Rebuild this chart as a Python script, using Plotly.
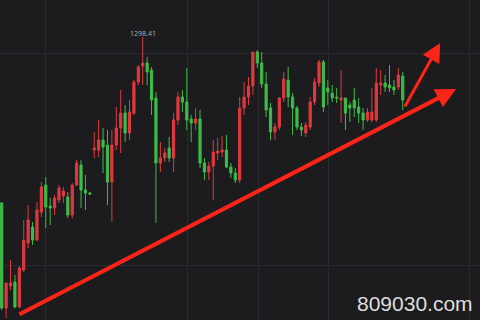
import plotly.graph_objects as go

# OHLC values (Chinese convention: red = up, green = down)
opens = [1215.5, 1163, 1174, 1176, 1163.5, 1182, 1195.5, 1203.5, 1197, 1211,
         1224.5, 1214, 1213, 1217, 1219, 1218.5, 1209.5, 1224.5, 1234.5, 1222,
         1220.5, 1242, 1242, 1247, 1244.5, 1226, 1244.5, 1253, 1260.5, 1250.5,
         1260.5, 1276, 1284, 1285.5, 1282, 1268, 1235.5, 1238, 1243, 1238,
         1257, 1268.5, 1266, 1257.5, 1255.5, 1257.5, 1235.5, 1231, 1234, 1240.5,
         1241, 1242, 1233.5, 1230.5, 1227, 1263, 1268.5, 1274, 1291, 1285.5,
         1275, 1263, 1251, 1253.5, 1268, 1277, 1268.5, 1263, 1253.5, 1250.5,
         1253.5, 1266, 1275.5, 1286, 1273, 1270.5, 1268.5, 1267, 1268, 1264.5,
         1267, 1263.5, 1260.5, 1257, 1257, 1257, 1274.5, 1275.5, 1274.5, 1273.5,
         1273.5, 1279]
highs = [1216, 1175.5, 1187, 1179.5, 1184, 1207, 1214.5, 1206, 1216, 1226,
         1228.5, 1218, 1219.5, 1224.5, 1223.5, 1221, 1225.5, 1237, 1237, 1229.5,
         1221, 1251, 1257, 1253, 1252, 1252, 1263.5, 1272, 1264.5, 1267,
         1277, 1284.5, 1298.41, 1288.5, 1283.5, 1271, 1246, 1243, 1248.5, 1260.5,
         1271, 1272, 1283, 1259.5, 1263, 1262, 1238, 1236, 1247, 1248,
         1249, 1249.5, 1235.5, 1233, 1268.5, 1276, 1278.5, 1291, 1292, 1291,
         1281, 1265.5, 1255.5, 1268.5, 1281, 1283.5, 1270.5, 1264, 1255.5, 1256,
         1268.5, 1278, 1287, 1287, 1277, 1274.5, 1273, 1282, 1268, 1266,
         1273, 1268, 1263, 1263, 1273, 1283, 1282, 1279.5, 1284.5, 1277,
         1283, 1281]
lows = [1162, 1158, 1172, 1163, 1163, 1181, 1193, 1194.5, 1196.5, 1208.5,
        1203, 1204.5, 1209.5, 1215.5, 1215.5, 1208, 1208, 1224, 1213, 1212,
        1219.5, 1238, 1238.5, 1230.5, 1214.5, 1206, 1242, 1240.5, 1246, 1247,
        1259.5, 1274.5, 1274.5, 1274.5, 1259.5, 1205.5, 1231, 1236, 1236, 1231,
        1254.5, 1261, 1252, 1246, 1252, 1233, 1227, 1227, 1217, 1237,
        1238.5, 1233, 1228, 1225.5, 1225.5, 1259.5, 1264.5, 1269.5, 1283, 1273,
        1258.5, 1247, 1247, 1252, 1266, 1263.5, 1249.5, 1252, 1249, 1248.5,
        1252, 1264.5, 1273.5, 1261, 1264.5, 1266, 1265.5, 1255.5, 1252, 1256,
        1258.5, 1255.5, 1252, 1256, 1256, 1256, 1269.5, 1271, 1271, 1269.5,
        1272, 1262]
closes = [1163, 1175.5, 1175.5, 1163.5, 1183, 1197, 1207, 1197, 1212, 1223.5,
          1213.5, 1213, 1218, 1223, 1221.5, 1209.5, 1224.5, 1235.5, 1222, 1220.5,
          1220, 1243, 1247, 1243.5, 1226, 1244.5, 1253, 1260.5, 1250.5, 1261,
          1276, 1283.5, 1285.5, 1281, 1267, 1235.5, 1238, 1240.5, 1238, 1257,
          1268.5, 1266, 1257, 1255.5, 1257.5, 1235.5, 1231, 1234, 1241, 1241.5,
          1242, 1233.5, 1230.5, 1227, 1263, 1268.5, 1274, 1291, 1285.5, 1275,
          1262, 1251, 1253.5, 1268, 1277.5, 1268.5, 1263, 1253.5, 1252, 1254.5,
          1266, 1276, 1286, 1263.5, 1271, 1268, 1268, 1268, 1260.5, 1263,
          1263, 1260.5, 1257, 1261, 1261, 1275.5, 1275.5, 1273.5, 1273, 1272,
          1279.5, 1267]
x_idx = list(range(len(opens)))

peak_label = "1298.41"
peak_index = 32
watermark = "809030.com"

# grid positions (candle index / price)
grid_x = [9.83, 42.05, 58.16, 74.05, 106.04]
grid_y = [1184.5, 1290.5]

# hand-drawn arrows: (tail_x, tail_y, tip_x, tip_y, width, head size)
arrows = [
    (3.7, 1159.5, 103.1, 1272.5, 4, 1.0),
    (91.3, 1263.0, 99.5, 1295.5, 3, 1.25),
]

BG = "#1c1c1f"
RED = "#e0393e"
GREEN = "#3cbc48"

fig = go.Figure(go.Candlestick(
    x=x_idx, open=opens, high=highs, low=lows, close=closes,
    increasing=dict(line=dict(color=RED, width=1), fillcolor=RED),
    decreasing=dict(line=dict(color=GREEN, width=1), fillcolor=GREEN),
    whiskerwidth=0,
))

fig.add_annotation(x=peak_index, y=highs[peak_index], text=peak_label,
                   showarrow=False, yanchor="bottom", yshift=-3,
                   font=dict(family="Noto Sans, Arial", size=7, color="#a8a8a8"))

for tx, ty, hx, hy, w, hs in arrows:
    fig.add_annotation(x=hx, y=hy, ax=tx, ay=ty, xref="x", yref="y",
                       axref="x", ayref="y", text="", showarrow=True,
                       arrowhead=2, arrowsize=hs,
                       arrowwidth=w, arrowcolor="#ff2418")

fig.add_annotation(x=355 / 480, y=0.052, xref="paper", yref="paper",
                   xanchor="left", yanchor="middle", text=watermark,
                   showarrow=False,
                   font=dict(family="Liberation Sans, Arial", size=21, color="#dedede"))

fig.update_layout(
    width=480, height=320, margin=dict(l=0, r=0, t=0, b=0),
    paper_bgcolor=BG, plot_bgcolor=BG, showlegend=False,
    boxgap=0.3,
    xaxis=dict(range=[-0.386, 108.53], rangeslider=dict(visible=False),
               tickvals=grid_x, showticklabels=False, showgrid=True,
               gridcolor="#2a2a2e", gridwidth=1, zeroline=False, showline=False),
    yaxis=dict(range=[1157, 1317], tickvals=grid_y, showticklabels=False,
               showgrid=True, gridcolor="#2a2a2e", gridwidth=1, zeroline=False,
               showline=False),
)

fig.write_html("out.html")
